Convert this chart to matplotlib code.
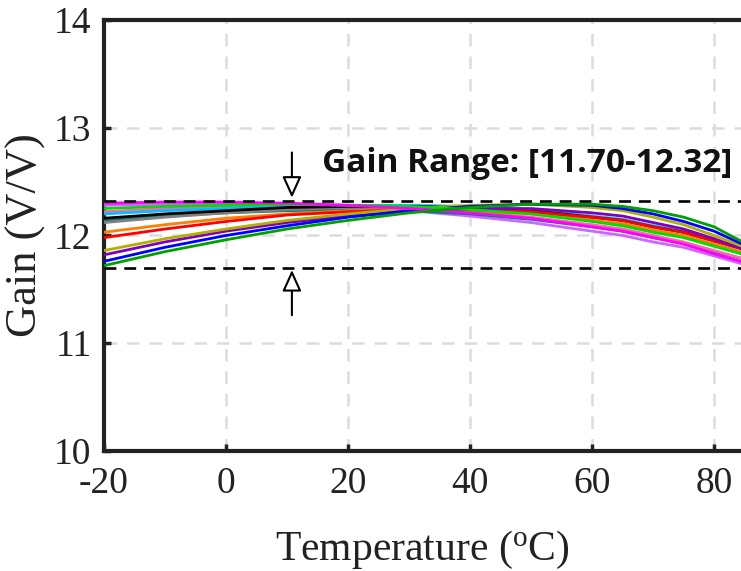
import matplotlib
matplotlib.use("Agg")
import matplotlib.pyplot as plt
from matplotlib.patches import FancyArrowPatch

# Temperature sweep (deg C) and gain of each sample (V/V)
temperature = [-20, -10, 0, 10, 20, 30, 40, 50, 60, 65, 70, 75, 80, 85]

gain_magenta = [12.30, 12.31, 12.31, 12.30, 12.28, 12.25, 12.21, 12.16, 12.08, 12.04, 11.98, 11.92, 11.83, 11.75]
gain_violet  = [12.28, 12.29, 12.29, 12.28, 12.26, 12.23, 12.18, 12.12, 12.04, 12.00, 11.94, 11.89, 11.81, 11.73]
gain_pink    = [12.22, 12.25, 12.27, 12.28, 12.28, 12.26, 12.22, 12.17, 12.10, 12.06, 12.00, 11.94, 11.86, 11.78]
gain_lime    = [12.25, 12.27, 12.28, 12.29, 12.28, 12.27, 12.24, 12.20, 12.13, 12.09, 12.03, 11.98, 11.90, 11.82]
gain_cyan    = [12.20, 12.23, 12.25, 12.27, 12.28, 12.28, 12.27, 12.24, 12.18, 12.15, 12.09, 12.04, 11.96, 11.88]
gain_black   = [12.16, 12.20, 12.23, 12.26, 12.27, 12.27, 12.26, 12.23, 12.17, 12.14, 12.08, 12.03, 11.95, 11.87]
gain_teal    = [12.14, 12.18, 12.21, 12.23, 12.24, 12.23, 12.20, 12.15, 12.08, 12.04, 11.98, 11.93, 11.85, 11.78]
gain_gray    = [12.12, 12.17, 12.21, 12.24, 12.26, 12.26, 12.25, 12.21, 12.14, 12.10, 12.04, 11.99, 11.91, 11.83]
gain_orange  = [12.03, 12.10, 12.16, 12.20, 12.23, 12.24, 12.23, 12.20, 12.14, 12.11, 12.05, 12.00, 11.92, 11.84]
gain_red     = [11.98, 12.06, 12.13, 12.19, 12.22, 12.24, 12.24, 12.22, 12.17, 12.14, 12.08, 12.03, 11.95, 11.87]
gain_olive   = [11.86, 11.97, 12.06, 12.14, 12.20, 12.25, 12.28, 12.29, 12.26, 12.23, 12.17, 12.10, 12.00, 11.89]
gain_purple  = [11.82, 11.94, 12.04, 12.12, 12.18, 12.22, 12.25, 12.25, 12.21, 12.18, 12.12, 12.06, 11.97, 11.87]
gain_blue    = [11.76, 11.89, 12.00, 12.09, 12.17, 12.23, 12.27, 12.29, 12.28, 12.25, 12.20, 12.13, 12.04, 11.91]
gain_green   = [11.72, 11.85, 11.96, 12.06, 12.14, 12.21, 12.26, 12.29, 12.29, 12.27, 12.23, 12.17, 12.08, 11.93]

series = [
    (gain_violet, "#cc66ff"),
    (gain_teal, "#008080"),
    (gain_pink, "#ff66b2"),
    (gain_gray, "#808080"),
    (gain_orange, "#ff7f00"),
    (gain_cyan, "#00bfff"),
    (gain_black, "#000000"),
    (gain_red, "#ff0000"),
    (gain_purple, "#8000c0"),
    (gain_olive, "#b0b000"),
    (gain_blue, "#0000ff"),
    (gain_lime, "#00dd00"),
    (gain_magenta, "#ff00ff"),
    (gain_green, "#00a000"),
]

gain_min = 11.70
gain_max = 12.32
x_ticks = [-20, 0, 20, 40, 60, 80]
y_ticks = [10, 11, 12, 13, 14]

plt.rcParams["font.family"] = ["Liberation Serif", "DejaVu Serif"]
plt.rcParams["mathtext.fontset"] = "stix"

fig = plt.figure(figsize=(7.41, 5.71), dpi=100)
ax = fig.add_axes([0.1403, 0.2102, 0.8597, 0.7548])

for vals, col in series:
    ax.plot(temperature, vals, color=col, lw=2.0, zorder=3,
            solid_joinstyle="round")

ax.axhline(gain_max, color="black", lw=1.9, ls=(0, (4.5, 3)), zorder=4)
ax.axhline(gain_min, color="black", lw=1.9, ls=(0, (4.5, 3)), zorder=4)

arrow_x = 10.8
for start, tip in [(12.77, 12.35), (11.26, 11.68)]:
    arr = FancyArrowPatch((arrow_x, start), (arrow_x, tip),
                          arrowstyle="-|>,head_length=1.0,head_width=0.45",
                          mutation_scale=13, lw=1.5, ec="black", fc="white",
                          shrinkA=0, shrinkB=0, zorder=5)
    ax.add_patch(arr)

ax.text(15.7, 12.59, "Gain Range: [11.70-12.32]", fontsize=24,
        fontweight="bold", family=["Open Sans", "DejaVu Sans"],
        ha="left", va="baseline", color="#111111", zorder=6)

ax.set_xlim(-20, 84.4)
ax.set_ylim(10, 14)
ax.set_xticks(x_ticks)
ax.set_yticks(y_ticks)
ax.set_xticklabels([str(t) for t in x_ticks])
ax.set_yticklabels([str(t) for t in y_ticks])
ax.grid(True, color="#dcdcdc", lw=1.8, ls=(0, (5, 4)), zorder=0)
ax.set_axisbelow(True)

ax.tick_params(direction="in", length=5, width=2.5, labelsize=27,
               colors="#222222")
ax.tick_params(axis="x", pad=11)
ax.tick_params(axis="y", pad=9)
for side in ["left", "bottom", "top"]:
    ax.spines[side].set_linewidth(3.0)
    ax.spines[side].set_color("#222222")
ax.spines["right"].set_visible(False)

ax.set_xlabel(r"Temperature ($\mathregular{^o}$C)", fontsize=30, labelpad=20, color="#222222")
ax.set_ylabel("Gain (V/V)", fontsize=32, labelpad=6, color="#222222")

fig.savefig("out.png", dpi=100)
